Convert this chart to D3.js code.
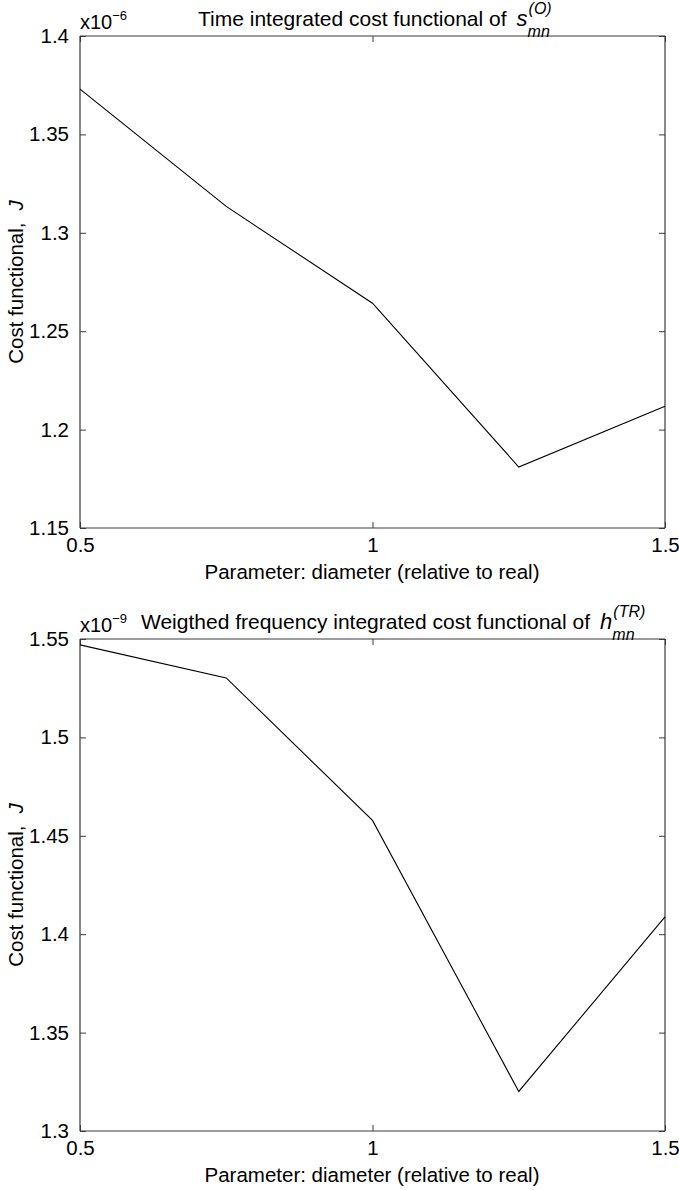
<!DOCTYPE html>
<html><head><meta charset="utf-8">
<script src="https://cdn.jsdelivr.net/npm/d3@7"></script>
<style>body{margin:0;background:#fff}svg{display:block}text{font-family:"Liberation Sans",Arial,sans-serif;fill:#000}</style>
</head><body><svg id="c" width="679" height="1190"></svg>
<script>
const xValues = [0.5, 0.75, 1.0, 1.25, 1.5];
const xTicks = [0.5, 1, 1.5];
const timeCost = [1.373, 1.3134, 1.2642, 1.181, 1.2119];      // x1e-6
const freqCost = [1.547, 1.5302, 1.4578, 1.3201, 1.4088];     // x1e-9
const yTicks1 = [1.15, 1.2, 1.25, 1.3, 1.35, 1.4];
const yTicks2 = [1.3, 1.35, 1.4, 1.45, 1.5, 1.55];

const svg = d3.select("#c");
const axisColor = "#3a3a3a";
const FS = 20.5;

function panel(cfg){
  const g = svg.append("g");
  const x = d3.scaleLinear().domain([0.5,1.5]).range([80,665]);
  const y = d3.scaleLinear().domain(cfg.ydom).range([cfg.bottom, cfg.top]);
  const tl = 6;
  const fmtY = d => String(+d.toFixed(2));
  const fmtX = d => String(d);
  const left = g.append("g").attr("transform",`translate(80,0)`)
    .call(d3.axisLeft(y).tickValues(cfg.yticks).tickSize(-tl).tickPadding(5+tl).tickFormat(fmtY));
  const right = g.append("g").attr("transform",`translate(665,0)`)
    .call(d3.axisRight(y).tickValues(cfg.yticks).tickSize(-tl).tickFormat(""));
  const bottom = g.append("g").attr("transform",`translate(0,${cfg.bottom})`)
    .call(d3.axisBottom(x).tickValues(xTicks).tickSize(-tl).tickPadding(3+tl).tickFormat(fmtX));
  const top = g.append("g").attr("transform",`translate(0,${cfg.top})`)
    .call(d3.axisTop(x).tickValues(xTicks).tickSize(-tl).tickFormat(""));
  [left,right,bottom,top].forEach(a=>{
    a.select(".domain").attr("stroke",axisColor).attr("stroke-width",1.2);
    a.selectAll(".tick line").attr("stroke",axisColor).attr("stroke-width",1);
    a.selectAll("text").style("font-family","Liberation Sans, Arial, sans-serif").style("font-size",FS+"px").attr("fill","#000");
  });
  left.select(".domain").attr("d",`M0,${cfg.bottom}V${cfg.top}`);
  right.select(".domain").attr("d",`M0,${cfg.bottom}V${cfg.top}`);
  bottom.select(".domain").attr("d",`M80,0H665`);
  top.select(".domain").attr("d",`M80,0H665`);

  g.append("path").datum(xValues.map((v,i)=>[v,cfg.values[i]]))
    .attr("fill","none").attr("stroke","#000").attr("stroke-width",1.1)
    .attr("d", d3.line().x(d=>x(d[0])).y(d=>y(d[1])));

  // multiplier
  const m = g.append("text").attr("x",80).attr("y",cfg.top-7).style("font-size","20px");
  m.append("tspan").text("x10");
  m.append("tspan").attr("dy",-9).style("font-size","13px").text("−"+cfg.exp);

  // title
  const t = g.append("text").attr("x",cfg.titleX).attr("y",cfg.top-10).style("font-size",cfg.tfs+"px").text(cfg.title);
  const tw = t.node().getComputedTextLength();
  const sx = cfg.titleX + tw + 10;
  const s = g.append("text").attr("x",sx).attr("y",cfg.top-10).style("font-size","22px").style("font-style","italic").text(cfg.sym);
  const sw = s.node().getComputedTextLength();
  g.append("text").attr("x",sx+sw+1).attr("y",cfg.top-22).style("font-size","16px").style("font-style","italic").text(cfg.sup);
  g.append("text").attr("x",sx+sw).attr("y",cfg.top+1).style("font-size","16px").style("font-style","italic").text("mn");

  g.append("text").attr("x",372).attr("y",cfg.bottom+51).attr("text-anchor","middle").style("font-size",FS+"px")
    .text("Parameter: diameter (relative to real)");
  const yl = g.append("text").attr("transform",`translate(23,${(cfg.top+cfg.bottom)/2}) rotate(-90)`)
    .attr("text-anchor","middle").style("font-size",FS+"px");
  yl.append("tspan").text("Cost functional,");
  yl.append("tspan").attr("dx",12).style("font-style","italic").text("J");
}

panel({ydom:[1.15,1.4], yticks:yTicks1, top:36, bottom:528, values:timeCost, exp:"6", tfs:21,
  title:"Time integrated cost functional of", titleX:198, sym:"s", sup:"(O)"});
panel({ydom:[1.3,1.55], yticks:yTicks2, top:639, bottom:1131, values:freqCost, exp:"9", tfs:21,
  title:"Weigthed frequency integrated cost functional of", titleX:141, sym:"h", sup:"(TR)"});
</script></body></html>
